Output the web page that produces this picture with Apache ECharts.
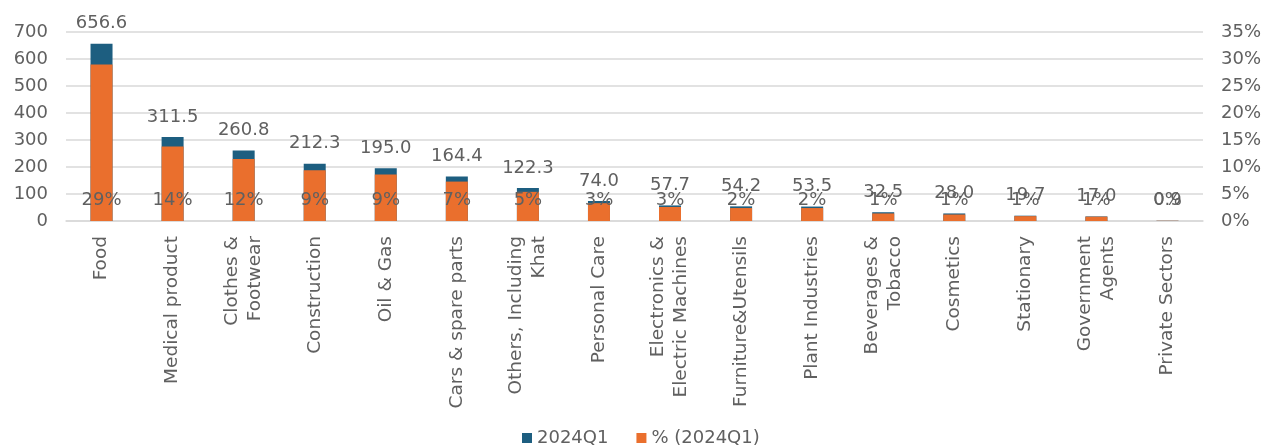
<!DOCTYPE html>
<html><head><meta charset="utf-8">
<script src="https://cdn.jsdelivr.net/npm/echarts@6/dist/echarts.min.js"></script>
<style>html,body{margin:0;padding:0;background:#fff}#c{width:1264px;height:446px}</style>
</head><body><div id="c"></div>
<script>
const categories = ["Food","Medical product","Clothes &\nFootwear","Construction","Oil & Gas","Cars & spare parts","Others, Including\nKhat","Personal Care","Electronics &\nElectric Machines","Furniture&Utensils","Plant Industries","Beverages &\nTobacco","Cosmetics","Stationary","Government\nAgents","Private Sectors"];
const values2024Q1 = [656.6,311.5,260.8,212.3,195.0,164.4,122.3,74.0,57.7,54.2,53.5,32.5,28.0,19.7,17.0,0.9];
const pct2024Q1 = [29.0,13.8,11.5,9.4,8.6,7.3,5.4,3.3,2.6,2.4,2.4,1.4,1.2,0.9,0.8,0.04];
const leftTicks = {min:0,max:700,interval:100};
const rightTicks = {min:0,max:35,interval:5};

const FONT = 'DejaVu Sans';
const TXT = '#606060';
const chart = echarts.init(document.getElementById('c'));
chart.setOption({
  animation:false,
  textStyle:{fontFamily:FONT,color:TXT},
  grid:{left:66,right:60,top:32,bottom:225,containLabel:false},
  legend:{bottom:-6,left:517,itemWidth:10,itemHeight:10,itemGap:28,icon:'rect',
    textStyle:{fontFamily:FONT,fontSize:18,color:TXT},
    data:['2024Q1','% (2024Q1)']},
  xAxis:{type:'category',data:categories,
    axisLine:{lineStyle:{color:'#D9D9D9',width:1.5}},axisTick:{show:false},
    axisLabel:{rotate:90,interval:0,fontFamily:FONT,fontSize:18.5,color:TXT,margin:15,lineHeight:23}},
  yAxis:[
    {type:'value',min:leftTicks.min,max:leftTicks.max,interval:leftTicks.interval,
     axisLabel:{fontFamily:FONT,fontSize:18,color:TXT,margin:18},
     splitLine:{lineStyle:{color:'#D9D9D9',width:1.5}},axisLine:{show:false},axisTick:{show:false}},
    {type:'value',min:rightTicks.min,max:rightTicks.max,interval:rightTicks.interval,
     axisLabel:{fontFamily:FONT,fontSize:18,color:TXT,margin:18,formatter:'{value}%'},
     splitLine:{show:false},axisLine:{show:false},axisTick:{show:false}}
  ],
  series:[
    {name:'2024Q1',type:'bar',yAxisIndex:0,data:values2024Q1,barWidth:22,
     itemStyle:{color:'#1D5E80'},
     label:{show:true,position:'top',distance:11,fontFamily:FONT,fontSize:18,color:TXT,
       formatter:p=>p.value.toFixed(1)}},
    {name:'% (2024Q1)',type:'bar',yAxisIndex:1,data:pct2024Q1,barWidth:22,barGap:'-100%',
     itemStyle:{color:'#EA6F2D'},
     label:{show:true,position:'insideBottom',distance:12,fontFamily:FONT,fontSize:18,color:TXT,
       formatter:p=>Math.round(p.value)+'%'}}
  ]
});
</script></body></html>
